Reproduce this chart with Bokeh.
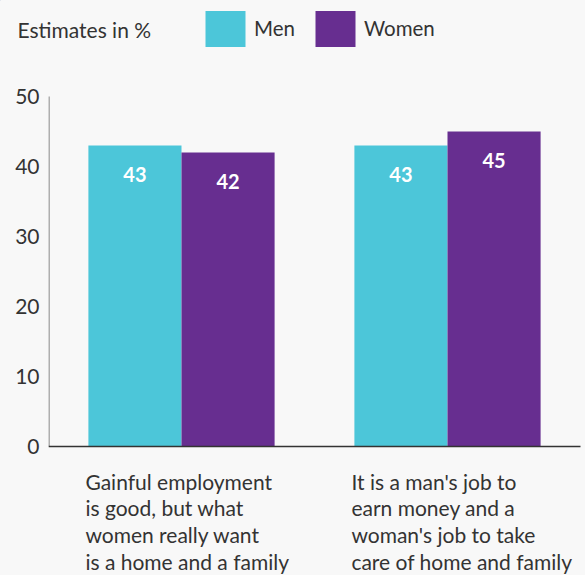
from bokeh.plotting import figure
from bokeh.layouts import column
from bokeh.models import (Range1d, FixedTicker, Legend, LegendItem, Label, Plot,
                          ColumnDataSource, GlobalInlineStyleSheet)
from bokeh.core.properties import value
from bokeh.embed import file_html
from bokeh.resources import INLINE

# ---- data ----
categories = [
    "Gainful employment\nis good, but what\nwomen really want\nis a home and a family",
    "It is a man's job to\nearn money and a\nwoman's job to take\ncare of home and family",
]
series_names = ["Men", "Women"]
men = [43, 43]
women = [42, 45]
y_ticks = [0, 10, 20, 30, 40, 50]
legend_title = "Estimates in %"

# ---- style ----
MEN_C = "#4cc6d9"
WOMEN_C = "#672e90"
BG = "#f8f8f8"
TXT = "#333333"
FONT = "Lato"
BAR_W = 0.35
W = 585
LEFT = 48
TOP_H = 70
MAIN_H = 505

pos = [i + 1 for i in range(len(categories))]
x_men = [x - BAR_W / 2 for x in pos]
x_women = [x + BAR_W / 2 for x in pos]
tick_pos = [x - BAR_W for x in pos]

css = GlobalInlineStyleSheet(css="html, body { background-color: #f8f8f8; }")
HAS_ALIGN = "frame_align" in Plot.properties()
extra = dict(frame_align=False) if HAS_ALIGN else {}
TOP_LEFT = 0 if HAS_ALIGN else LEFT

# ---------- top strip: legend ----------
top = figure(width=W, height=TOP_H, x_range=Range1d(TOP_LEFT, W), y_range=Range1d(TOP_H, 0),
             x_axis_location=None, y_axis_location=None,
             min_border_left=TOP_LEFT, min_border_right=0, min_border_top=0, min_border_bottom=0,
             output_backend="svg", toolbar_location=None,
             background_fill_color=BG, border_fill_color=BG, outline_line_color=None, **extra)
top.grid.visible = False
top.stylesheets = [css]

# legend-only renderers (their single point lies outside the visible range)
dm = top.vbar(x=[-W], top=[-W], bottom=-W - 1, width=1, fill_color=MEN_C, line_color=None)
dw = top.vbar(x=[-W], top=[-W], bottom=-W - 1, width=1, fill_color=WOMEN_C, line_color=None)
legend = Legend(items=[LegendItem(label=series_names[0], renderers=[dm]),
                       LegendItem(label=series_names[1], renderers=[dw])],
                location=(200 - TOP_LEFT, 19.5), orientation="horizontal",
                glyph_width=50, glyph_height=45, label_standoff=4, spacing=15,
                padding=0, margin=0, border_line_color=None, background_fill_alpha=0,
                label_text_font=FONT, label_text_font_size="20.5px", label_text_color=TXT)
top.add_layout(legend)
top.add_layout(Label(x=17 if HAS_ALIGN else LEFT + 1, y=28.5, text=legend_title,
                     text_baseline="middle",
                     text_font=FONT, text_font_size="21px", text_color=TXT))

# ---------- main chart ----------
PX_PER_Y = 7.0
Y0_PIX = 376  # pixel row of value 0 inside this figure
y_start = -(MAIN_H - Y0_PIX) / PX_PER_Y
y_end = Y0_PIX / PX_PER_Y
x_start = 0.5
x_end = x_start + (W - LEFT) / 266.0

p = figure(width=W, height=MAIN_H,
           x_range=Range1d(x_start, x_end), y_range=Range1d(y_start, y_end),
           x_axis_location=None,
           min_border_left=LEFT, min_border_right=0, min_border_top=0, min_border_bottom=0,
           output_backend="svg", toolbar_location=None,
           background_fill_color=BG, border_fill_color=BG, outline_line_color=None, **extra)
p.grid.visible = False
p.stylesheets = [css]

src_m = ColumnDataSource(dict(x=x_men, top=men, lab=[str(v) for v in men]))
src_w = ColumnDataSource(dict(x=x_women, top=women, lab=[str(v) for v in women]))

p.vbar(x="x", top="top", bottom=0, width=BAR_W, source=src_m,
       fill_color=MEN_C, line_color=None)
p.vbar(x="x", top="top", bottom=0, width=BAR_W, source=src_w,
       fill_color=WOMEN_C, line_color=None)

for s in (src_m, src_w):
    p.text(x="x", y="top", text="lab", source=s, text_align="center",
           text_baseline="middle", y_offset=29, text_color="white",
           text_font=value(FONT), text_font_style="bold", text_font_size="20px")

# axis lines (value axis spans 0..max tick, category baseline spans the plot)
p.segment(x0=[x_start + 0.5 / 266], y0=[0], x1=[x_start + 0.5 / 266], y1=[max(y_ticks)],
          line_color="#666666", line_width=1)
p.segment(x0=[x_start], y0=[0], x1=[x_start + 532 / 266.0], y1=[0],
          line_color="#333333", line_width=1.5)

# y axis (labels only)
ya = p.yaxis[0]
ya.ticker = FixedTicker(ticks=y_ticks)
ya.major_tick_out = 0
ya.major_tick_in = 0
ya.minor_tick_out = 0
ya.minor_tick_in = 0
ya.major_label_standoff = 9
ya.axis_line_color = None
ya.major_label_text_font = FONT
ya.major_label_text_font_size = "21px"
ya.major_label_text_color = TXT

# category labels, left-aligned under each group
p.text(x=tick_pos, y=[0] * len(tick_pos), text=categories, text_align="left",
       text_baseline="top", y_offset=22, x_offset=-3, text_color=TXT,
       text_font=value(FONT), text_font_size="21px", text_line_height=1.07)

layout = column(top, p, spacing=0)
open("out.html", "w").write(file_html(layout, INLINE))
